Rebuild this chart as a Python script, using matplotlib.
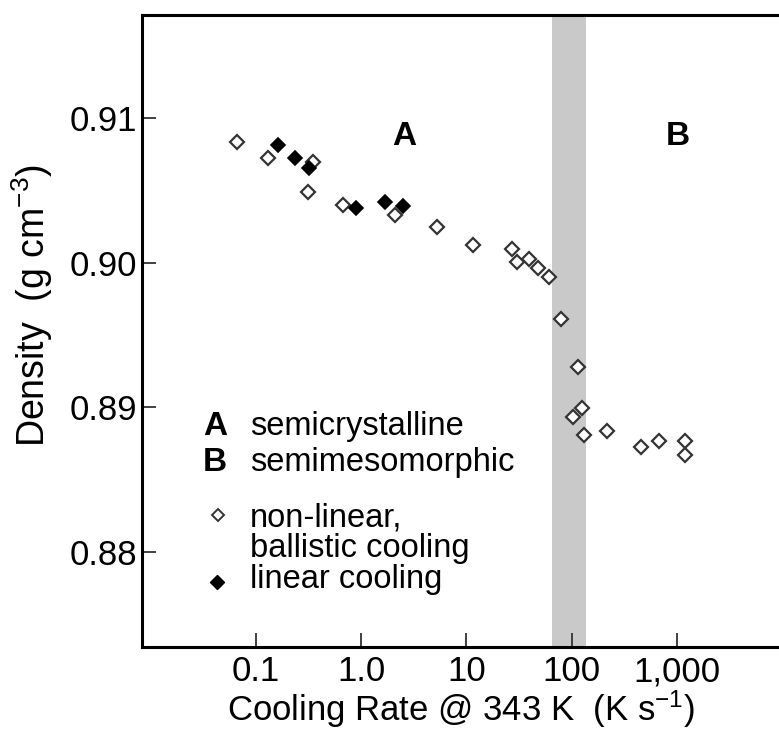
import matplotlib
matplotlib.use('Agg')
import matplotlib.pyplot as plt

plt.rcParams['font.family'] = ['Liberation Sans', 'DejaVu Sans']
plt.rcParams['mathtext.fontset'] = 'custom'
plt.rcParams['mathtext.rm'] = 'Liberation Sans'
plt.rcParams['mathtext.it'] = 'Liberation Sans'

# non-linear, ballistic cooling (open diamonds)
open_rate = [0.066, 0.129, 0.346, 0.310, 0.667, 2.10, 5.22, 11.6, 26.9, 30.0,
             39.7, 47.6, 61.5, 79.4, 116, 125, 104, 132, 215, 457, 672, 1205, 1205]
open_dens = [0.90832, 0.90721, 0.90698, 0.90490, 0.90398, 0.90329, 0.90248,
             0.90121, 0.90093, 0.90006, 0.90022, 0.89960, 0.89902, 0.89607,
             0.89279, 0.88995, 0.88933, 0.88806, 0.88834, 0.88725, 0.88763,
             0.88767, 0.88668]
# linear cooling (filled diamonds)
lin_rate = [0.162, 0.233, 0.322, 0.893, 1.70, 2.52]
lin_dens = [0.90813, 0.90721, 0.90652, 0.90375, 0.90421, 0.90391]

# transition band
band_lo, band_hi = 64.5, 136

xticks = [0.1, 1, 10, 100, 1000]
xtick_labels = ['0.1', '1.0', '10', '100', '1,000']
yticks = [0.88, 0.89, 0.90, 0.91]
ytick_labels = ['0.88', '0.89', '0.90', '0.91']

fig = plt.figure(figsize=(7.79, 7.33), dpi=100)
ax = fig.add_axes([0.1829, 0.1173, 0.8171, 0.8622])
ax.set_xscale('log')
ax.set_xlim(10**-2.078, 10**3.97)
ax.set_ylim(0.87339, 0.91713)

ax.axvspan(band_lo, band_hi, color='#c9c9c9', lw=0, zorder=0)

ax.plot(lin_rate, lin_dens, 'D', ms=7.5, mfc='black', mec='black', mew=1.2, ls='none', zorder=3)
ax.plot(open_rate, open_dens, 'D', ms=7.5, mfc='white', mec='#333333', mew=1.6, ls='none', zorder=2)

ax.text(2.58, 0.90869, 'A', fontsize=24, fontweight='bold', ha='center', va='center')
ax.text(1012, 0.90875, 'B', fontsize=24, fontweight='bold', ha='center', va='center')

# legend block
tr = ax.transAxes
ax.text(0.095, 0.3354, 'A', fontsize=24, fontweight='bold', transform=tr, va='baseline')
ax.text(0.1689, 0.3354, 'semicrystalline', fontsize=23.5, transform=tr, va='baseline')
ax.text(0.095, 0.2785, 'B', fontsize=24, fontweight='bold', transform=tr, va='baseline')
ax.text(0.1689, 0.2785, 'semimesomorphic', fontsize=23.5, transform=tr, va='baseline')
ax.plot([0.1186], [0.2089], 'D', ms=6, mfc='white', mec='#333333', mew=1.4, transform=tr)
ax.text(0.1689, 0.1904, 'non-linear,', fontsize=23.5, transform=tr, va='baseline')
ax.text(0.1689, 0.1429, 'ballistic cooling', fontsize=23.5, transform=tr, va='baseline')
ax.plot([0.1174], [0.1033], 'D', ms=7, mfc='black', mec='black', mew=1.0, transform=tr)
ax.text(0.1689, 0.0929, 'linear cooling', fontsize=23.5, transform=tr, va='baseline')

ax.set_xticks(xticks)
ax.set_xticklabels(xtick_labels)
ax.set_yticks(yticks)
ax.set_yticklabels(ytick_labels)
ax.minorticks_off()
ax.tick_params(axis='both', direction='in', length=10, width=1.3, labelsize=25, color='#333333')
ax.tick_params(axis='x', pad=6)
ax.tick_params(axis='y', pad=4)

for s in ['left', 'top', 'bottom']:
    ax.spines[s].set_linewidth(2.2)
ax.spines['right'].set_visible(False)

ax.set_xlabel(r'Cooling Rate @ 343 K  (K s$^{-1}$)', fontsize=25, labelpad=0)
ax.set_ylabel(r'Density  (g cm$^{-3}$)', fontsize=27)
ax.yaxis.set_label_coords(-0.137, 0.541)

fig.savefig('out.png', dpi=100)
